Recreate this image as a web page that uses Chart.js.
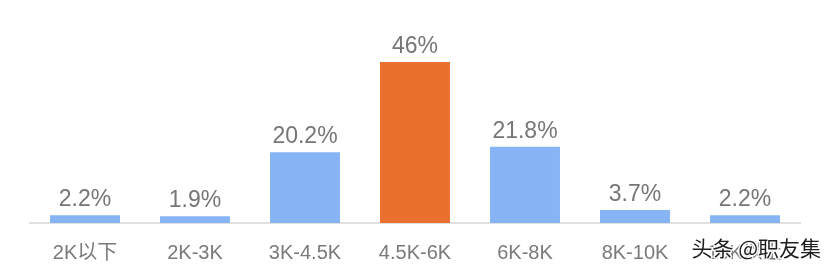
<!DOCTYPE html>
<html>
<head>
<meta charset="utf-8">
<script src="https://cdn.jsdelivr.net/npm/chart.js@4"></script>
<style>
  html, body { margin: 0; padding: 0; background: #fff; }
  #wrap { width: 828px; height: 272px; position: relative; }
</style>
</head>
<body>
<div id="wrap"><canvas id="salaryChart"></canvas></div>
<script>
// salary ranges and share of jobs (%)
var categories = ["2K以下", "2K-3K", "3K-4.5K", "4.5K-6K", "6K-8K", "8K-10K", "10K以上"];
var shares = [2.2, 1.9, 20.2, 46, 21.8, 3.7, 2.2];
var valueLabels = ["2.2%", "1.9%", "20.2%", "46%", "21.8%", "3.7%", "2.2%"];

var COLOR_BLUE = "#87b4f4";
var COLOR_ORANGE = "#e9702f";
var FONT = "'Liberation Sans', 'Noto Sans CJK SC', sans-serif";

var barColors = shares.map(function (v) {
    return v === Math.max.apply(null, shares) ? COLOR_ORANGE : COLOR_BLUE;
});

// draw the % text above every bar
var valueLabelPlugin = {
    id: "valueLabels",
    afterDatasetsDraw: function (chart) {
        var ctx = chart.ctx;
        var meta = chart.getDatasetMeta(0);
        ctx.save();
        ctx.font = "23px " + FONT;
        ctx.fillStyle = "#767676";
        ctx.textAlign = "center";
        ctx.textBaseline = "alphabetic";
        meta.data.forEach(function (bar, i) {
            ctx.fillText(valueLabels[i], bar.x, bar.y - 9);
        });
        ctx.restore();
    }
};

// watermark in the bottom right corner
var watermarkPlugin = {
    id: "watermark",
    afterDraw: function (chart) {
        var ctx = chart.ctx;
        ctx.save();
        ctx.font = "21px 'Noto Sans CJK SC', sans-serif";
        ctx.textAlign = "right";
        ctx.textBaseline = "middle";
        ctx.lineJoin = "round";
        ctx.lineWidth = 3;
        ctx.strokeStyle = "rgba(255,255,255,0.85)";
        var text = "头条 @职友集";
        var x = chart.width - 7, y = chart.height - 24;
        ctx.strokeText(text, x, y);
        ctx.fillStyle = "#1e1e1e";
        ctx.fillText(text, x, y);
        ctx.restore();
    }
};

var ctx = document.getElementById("salaryChart").getContext("2d");
var chart = new Chart(ctx, {
    type: "bar",
    data: {
        labels: categories,
        datasets: [{
            data: shares,
            backgroundColor: barColors,
            borderWidth: 0,
            barPercentage: 0.636,
            categoryPercentage: 1.0
        }]
    },
    options: {
        responsive: true,
        maintainAspectRatio: false,
        animation: false,
        layout: { padding: { left: 30, right: 28, top: 13, bottom: 0 } },
        plugins: {
            legend: { display: false },
            tooltip: { enabled: false }
        },
        scales: {
            x: {
                grid: { display: false, drawTicks: false },
                border: { display: true, color: "#e0e0e0", width: 2 },
                ticks: {
                    color: "#7a7a7a",
                    font: { size: 20, family: FONT },
                    padding: 18
                },
                afterFit: function (scale) {
                    scale.height = 49;
                }
            },
            y: {
                display: false,
                min: 0,
                max: 60
            }
        }
    },
    plugins: [valueLabelPlugin, watermarkPlugin]
});
</script>
</body>
</html>
